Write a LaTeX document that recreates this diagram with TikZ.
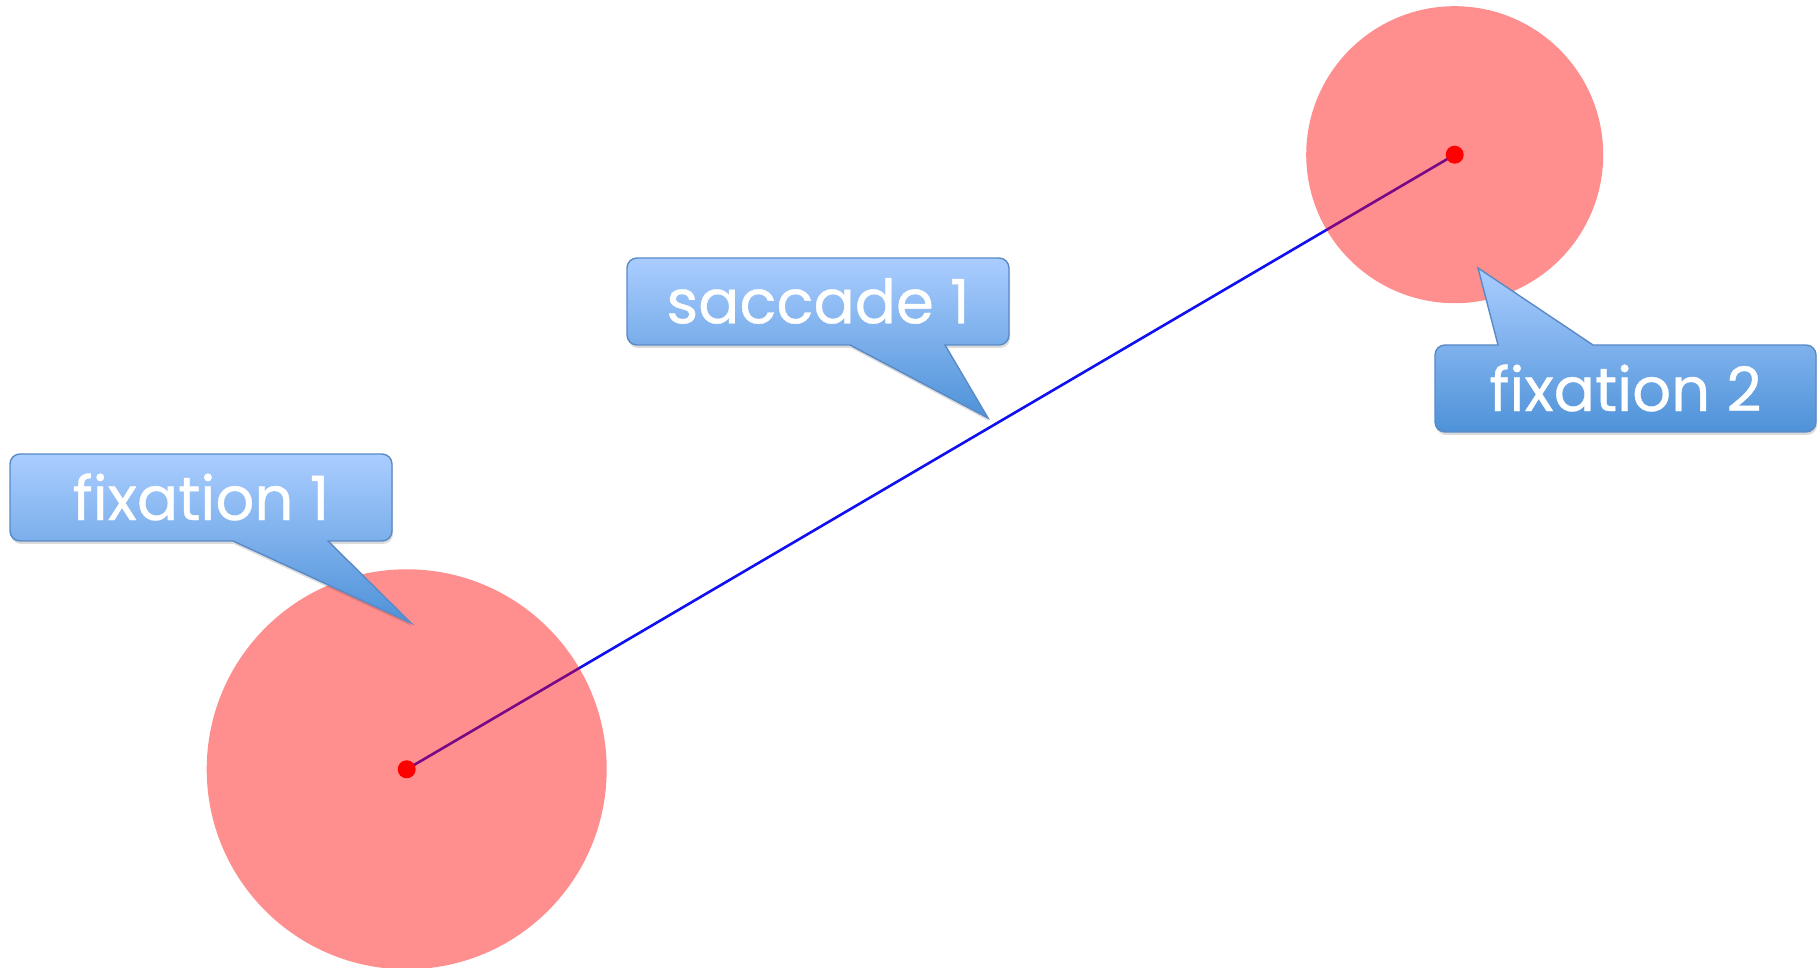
\documentclass[tikz,border=0pt]{standalone}
\usepackage{fontspec}
\newfontfamily\bubblefont[FakeBold=0.6]{Poppins}
\usetikzlibrary{shadows}
\definecolor{spotfill}{HTML}{FF0000}
\definecolor{pathblue}{HTML}{1010F0}
\definecolor{bubbletop}{HTML}{AACDFF}
\definecolor{bubblebot}{HTML}{4E92D8}
\definecolor{bubbleedge}{HTML}{5A8AC6}
\tikzset{
  area/.style={circle, fill=spotfill, fill opacity=0.44, inner sep=0pt},
  gaze/.style={circle, fill=red, inner sep=0pt, minimum size=18pt},
  sacpath/.style={draw=pathblue, line width=2.6pt},
  bubble/.style={top color=bubbletop, bottom color=bubblebot, draw=bubbleedge,
    line width=1.4pt, line join=miter,
    drop shadow={shadow xshift=1pt, shadow yshift=-3pt, opacity=0.14, fill=black}},
  bubbletext/.style={text=white, font=\bubblefont\fontsize{61}{66}\selectfont, inner sep=0pt}
}
\begin{document}
\begin{tikzpicture}[x=1pt, y=1pt]
\useasboundingbox (0,0) rectangle (1820,967);
\fill[white] (0,0) rectangle (1820,967);

% gaze points and the saccade between them
\coordinate (c1) at (406.7,197.7);
\coordinate (c2) at (1454.7,812.3);
\draw[sacpath] (c1) -- (c2);

% fixation areas
\node[area, minimum size=400pt] (fix1) at (c1) {};
\node[area, minimum size=297pt] (fix2) at (c2) {};

\node[gaze] (p1) at (c1) {};
\node[gaze] (p2) at (c2) {};

% callout: fixation 1
\path[bubble] (20,513) -- (382,513) arc[start angle=90,end angle=0,radius=10pt]
  -- (392,436) arc[start angle=0,end angle=-90,radius=10pt]
  -- (328,426) -- (411,344) -- (233,426)
  -- (20,426) arc[start angle=270,end angle=180,radius=10pt]
  -- (10,503) arc[start angle=180,end angle=90,radius=10pt] -- cycle;
\node[bubbletext] (t1) at (201,470) {fixation 1};

% callout: saccade 1
\path[bubble] (637,709) -- (999,709) arc[start angle=90,end angle=0,radius=10pt]
  -- (1009,632) arc[start angle=0,end angle=-90,radius=10pt]
  -- (945,622) -- (988,549) -- (850,622)
  -- (637,622) arc[start angle=270,end angle=180,radius=10pt]
  -- (627,699) arc[start angle=180,end angle=90,radius=10pt] -- cycle;
\node[bubbletext] (t2) at (818,666) {saccade 1};

% callout: fixation 2
\path[bubble] (1445,622) -- (1498,622) -- (1478,699) -- (1593,622)
  -- (1806,622) arc[start angle=90,end angle=0,radius=10pt]
  -- (1816,545) arc[start angle=0,end angle=-90,radius=10pt]
  -- (1445,535) arc[start angle=270,end angle=180,radius=10pt]
  -- (1435,612) arc[start angle=180,end angle=90,radius=10pt] -- cycle;
\node[bubbletext] (t3) at (1625.5,579) {fixation 2};
\end{tikzpicture}
\end{document}
